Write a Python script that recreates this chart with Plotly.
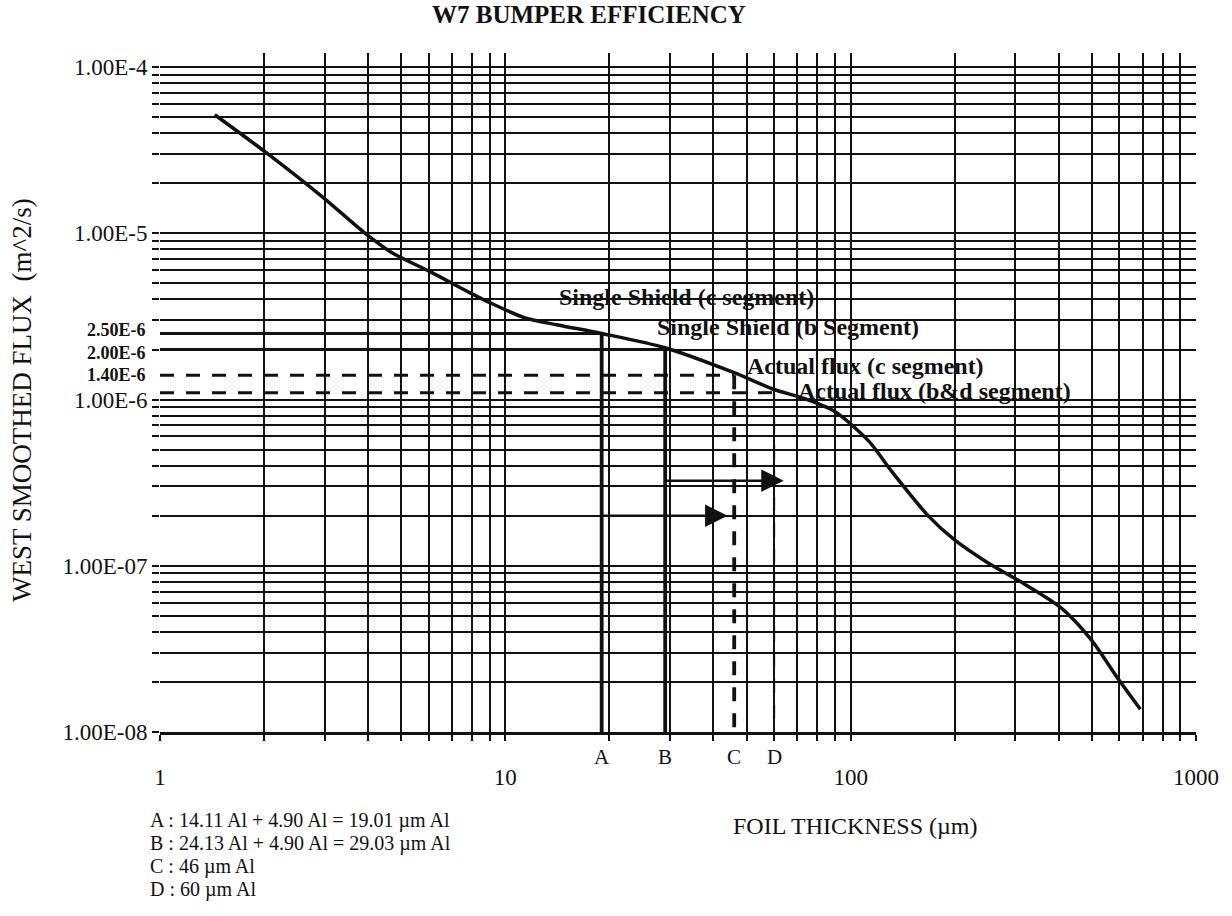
import plotly.graph_objects as go
import math

# ---------------- data ----------------
# smoothed flux curve (foil thickness in um, flux in m^2/s)
thickness_um = [1.44, 2.03, 2.94, 3.93, 4.67, 6.09, 7.93, 9.06, 11.4, 14.2, 19.0, 29.0,
                46.0, 60.0, 71.8, 89.7, 113, 131, 168, 200, 250, 305, 406, 495, 592, 690]
flux = [5.17e-5, 3.06e-5, 1.67e-5, 1.0e-5, 7.7e-6, 5.84e-6, 4.37e-6, 3.81e-6, 3.10e-6,
        2.81e-6, 2.5e-6, 2.05e-6, 1.45e-6, 1.15e-6, 1.03e-6, 8.5e-7, 5.6e-7, 3.73e-7,
        1.99e-7, 1.43e-7, 1.04e-7, 8.2e-8, 5.6e-8, 3.63e-8, 2.12e-8, 1.37e-8]

# reference thicknesses A, B, C, D (um Al)
ref_names = ["A", "B", "C", "D"]
ref_thickness = [19.01, 29.03, 46.0, 60.0]
ref_flux = [2.5e-6, 2.0e-6, 1.4e-6, 1.1e-6]
ref_dashed = [False, False, True, True]

# arrows: start thickness, end thickness, flux level
arrow_start = [19.01, 29.03]
arrow_end = [44.0, 64.0]
arrow_flux = [2.0e-7, 3.25e-7]

# labelled flux levels on the y axis
flux_labels = ["2.50E-6", "2.00E-6", "1.40E-6"]
flux_label_vals = [2.5e-6, 2.0e-6, 1.4e-6]

segment_labels = ["Single Shield (c segment)", "Single Shield (b Segment)",
                  "Actual flux (c segment)", "Actual flux (b&d segment)"]

x_decades = [0, 1, 2]
y_decades = [-8, -7, -6, -5]
x_major_text = {1: "1", 10: "10", 100: "100", 1000: "1000"}
y_major_text = {-8: "1.00E-08", -7: "1.00E-07", -6: "1.00E-6", -5: "1.00E-5", -4: "1.00E-4"}

footnotes = ["A : 14.11 Al + 4.90 Al = 19.01 \u00b5m Al",
             "B : 24.13 Al + 4.90 Al = 29.03 \u00b5m Al",
             "C : 46 \u00b5m Al",
             "D : 60 \u00b5m Al"]

# ---------------- layout helpers ----------------
W, H = 1232, 916
L, R, T, B = 160, 36, 53, 184
PW, PH = W - L - R, H - T - B


def px(xp):
    return (xp - L) / PW


def py(yp):
    return (H - B - yp) / PH


SERIF = "Liberation Serif, Times New Roman, serif"
INK = "#111111"

# ticks / grid positions
x_tickvals, x_ticktext = [], []
for d in x_decades:
    for m in range(1, 10):
        v = m * 10 ** d
        x_tickvals.append(v)
        x_ticktext.append(x_major_text.get(v, ""))
x_tickvals.append(1000)
x_ticktext.append(x_major_text[1000])

y_tickvals, y_ticktext = [], []
for d in y_decades:
    for m in range(1, 10):
        y_tickvals.append(m * 10.0 ** d)
        y_ticktext.append(y_major_text[d] if m == 1 else "")
y_tickvals.append(1e-4)
y_ticktext.append(y_major_text[-4])

fig = go.Figure()

# reference lines (horizontal from x=1 and vertical down to axis)
for name, xv, fv, dashed in zip(ref_names, ref_thickness, ref_flux, ref_dashed):
    dash = "14px,12px" if dashed else "solid"
    fig.add_trace(go.Scatter(x=[1, xv], y=[fv, fv], mode="lines",
                             line=dict(color=INK, width=3, dash=dash), showlegend=False,
                             hoverinfo="skip"))
    vwidth = 2.2 if name == "D" else 3.8
    fig.add_trace(go.Scatter(x=[xv, xv], y=[fv, 1e-8], mode="lines",
                             line=dict(color=INK, width=vwidth, dash=dash), showlegend=False,
                             hoverinfo="skip"))

# main curve
fig.add_trace(go.Scatter(x=thickness_um, y=flux, mode="lines",
                         line=dict(color=INK, width=3.5, shape="spline", smoothing=0.8),
                         showlegend=False))

annotations = []
# arrows
for xs, xe, fv in zip(arrow_start, arrow_end, arrow_flux):
    annotations.append(dict(x=math.log10(xe), y=math.log10(fv), ax=math.log10(xs), ay=math.log10(fv),
                            xref="x", yref="y", axref="x", ayref="y", text="", showarrow=True,
                            arrowhead=2, arrowsize=1.8, arrowwidth=2.5, arrowcolor=INK))

# bold flux level labels
label_shift = [3, -3, 0]
for t, v, s in zip(flux_labels, flux_label_vals, label_shift):
    annotations.append(dict(x=px(148), y=math.log10(v), xref="paper", yref="y", text=t,
                            showarrow=False, xanchor="right", yanchor="middle", yshift=s,
                            font=dict(family=SERIF, size=18, color=INK, weight="bold")))

# segment labels
seg_pos = [(557, 297), (655, 327), (745, 366), (796, 391)]
for t, (xp, yp) in zip(segment_labels, seg_pos):
    annotations.append(dict(x=px(xp), y=py(yp), xref="paper", yref="paper", text=t,
                            showarrow=False, xanchor="left", yanchor="middle",
                            font=dict(family=SERIF, size=24, color=INK, weight="bold")))

# A B C D letters under the axis
for name, xv in zip(ref_names, ref_thickness):
    annotations.append(dict(x=math.log10(xv), y=py(757), xref="x", yref="paper", text=name,
                            showarrow=False, xanchor="center", yanchor="middle",
                            font=dict(family=SERIF, size=21, color=INK)))

# title
annotations.append(dict(x=px(589), y=py(15), xref="paper", yref="paper",
                        text="W7 BUMPER EFFICIENCY", showarrow=False,
                        xanchor="center", yanchor="middle",
                        font=dict(family=SERIF, size=25, color=INK, weight="bold")))
# axis titles
annotations.append(dict(x=px(855), y=py(826), xref="paper", yref="paper",
                        text="FOIL THICKNESS (\u00b5m)", showarrow=False,
                        xanchor="center", yanchor="middle",
                        font=dict(family=SERIF, size=24, color=INK)))
annotations.append(dict(x=px(22), y=py(400), xref="paper", yref="paper",
                        text="WEST SMOOTHED FLUX  (m^2/s)", showarrow=False, textangle=-90,
                        xanchor="center", yanchor="middle",
                        font=dict(family=SERIF, size=27, color=INK)))
# footnotes
for i, t in enumerate(footnotes):
    annotations.append(dict(x=px(148), y=py(820 + 23 * i), xref="paper", yref="paper",
                            text=t, showarrow=False, xanchor="left", yanchor="middle",
                            font=dict(family=SERIF, size=20, color=INK)))

fig.update_layout(
    width=W, height=H,
    margin=dict(l=L, r=R, t=T, b=B, autoexpand=False),
    paper_bgcolor="white", plot_bgcolor="white",
    showlegend=False,
    annotations=annotations,
    xaxis=dict(type="log", range=[0, 3], tickmode="array", tickvals=x_tickvals,
               ticktext=x_ticktext, showgrid=True, gridcolor=INK, gridwidth=2,
               ticks="outside", ticklen=6, tickwidth=1.5, tickcolor=INK,
               showline=True, linecolor=INK, linewidth=2.5, zeroline=False,
               tickfont=dict(family=SERIF, size=23, color=INK), ticklabelstandoff=17),
    yaxis=dict(type="log", range=[-8, -3.915], tickmode="array", tickvals=y_tickvals,
               ticktext=y_ticktext, showgrid=True, gridcolor=INK, gridwidth=1.6,
               ticks="outside", ticklen=7, tickwidth=1.5, tickcolor=INK,
               showline=False, zeroline=False,
               tickfont=dict(family=SERIF, size=23, color=INK)),
)

fig.write_html("out.html", config={"displayModeBar": False},
               post_script="document.body.style.margin='0';")
